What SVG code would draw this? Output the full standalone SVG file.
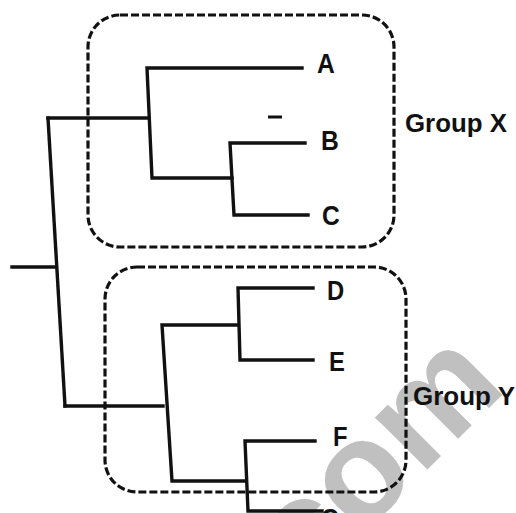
<svg xmlns="http://www.w3.org/2000/svg" width="516" height="513" viewBox="0 0 516 513">
<style>
.br{fill:none;stroke:#111;stroke-width:3.4;stroke-linecap:square;stroke-linejoin:miter}
.box{fill:none;stroke:#111;stroke-width:3.2;stroke-dasharray:8 3}
.lab{font-family:"Liberation Sans",Arial,sans-serif;font-weight:bold;font-size:28px;fill:#111}
.grp{font-family:"Liberation Sans",Arial,sans-serif;font-weight:bold;font-size:26px;fill:#111}
.wm{font-family:"Liberation Sans",Arial,sans-serif;font-weight:bold;font-size:140px;fill:#c0c0c0}
</style>
<rect width="516" height="513" fill="#fff"/>
<g id="watermark"><text class="wm" transform="translate(305,592) rotate(-45)">com</text></g>
<g id="groupX"><rect class="box" x="88" y="15" width="306" height="232" rx="32"/><text class="grp" x="405" y="132" textLength="102" lengthAdjust="spacingAndGlyphs">Group X</text></g>
<g id="groupY"><rect class="box" x="105" y="267" width="301" height="225" rx="32"/><text class="grp" x="413" y="405" textLength="102" lengthAdjust="spacingAndGlyphs">Group Y</text></g>
<g id="connectors">
<path class="br" d="M12,267 H56"/>
<path class="br" d="M48,118 L65,406"/>
<path class="br" d="M48,118 H147"/>
<path class="br" d="M302,68 H147 L152,178 H232"/>
<path class="br" d="M305,143 H230 L234,215 H308"/>
<path class="br" d="M65,406 H163"/>
<path class="br" d="M238,325 H162 L172,481 H245"/>
<path class="br" d="M313,288 H238 L240,360 H313"/>
<path class="br" d="M315,441 H245 L248,511 H322"/>
<path d="M268,117 H282" stroke="#111" stroke-width="3"/>
</g>
<g id="A"><text class="lab" transform="translate(317,73) scale(0.88,1)">A</text></g>
<g id="B"><text class="lab" transform="translate(321,150) scale(0.88,1)">B</text></g>
<g id="C"><text class="lab" transform="translate(322,225) scale(0.88,1)">C</text></g>
<g id="D"><text class="lab" transform="translate(327,300) scale(0.85,1)">D</text></g>
<g id="E"><text class="lab" transform="translate(329,371) scale(0.85,1)">E</text></g>
<g id="F"><text class="lab" transform="translate(333,446) scale(0.85,1)">F</text></g>
<g id="G"><text class="lab" transform="translate(321,528) scale(0.85,1)">G</text></g>
</svg>
